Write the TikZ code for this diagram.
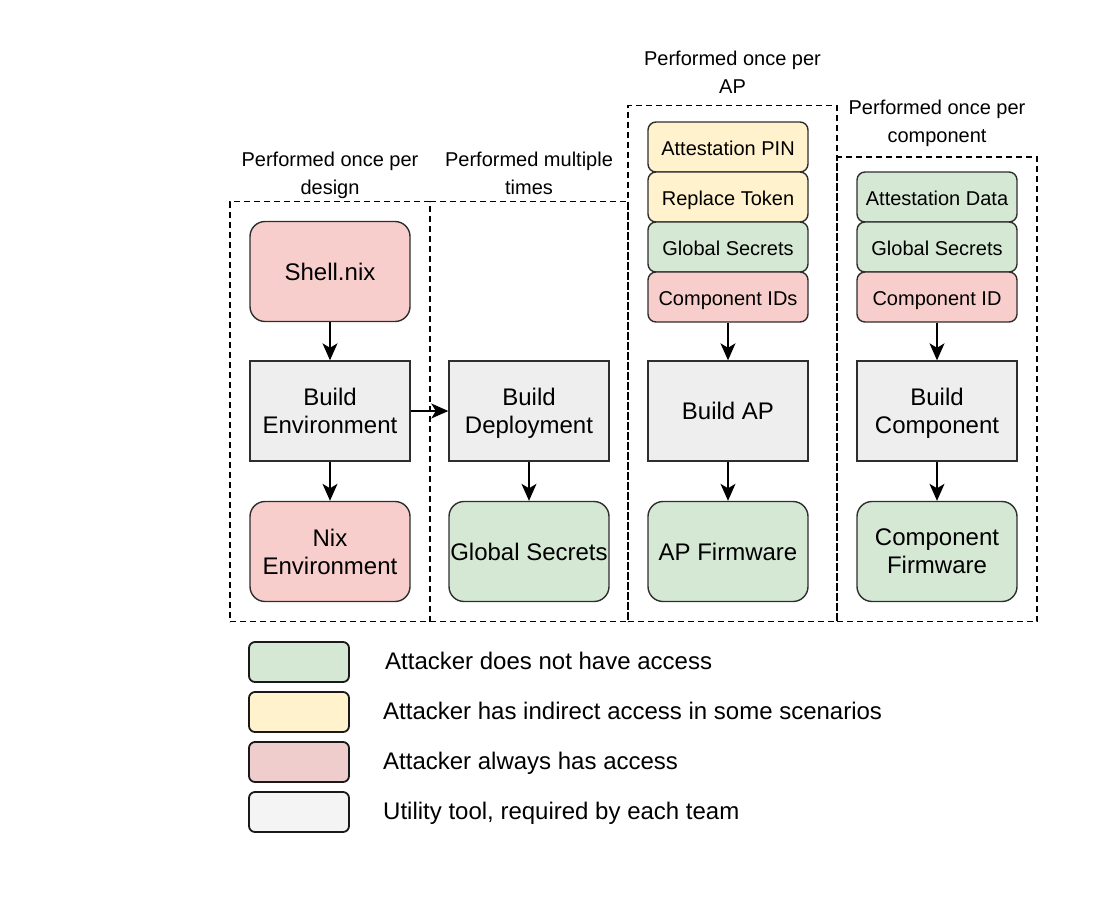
\documentclass[tikz,border=0pt]{standalone}
\usepackage{fontspec}
\setmainfont{Liberation Sans}
\usetikzlibrary{arrows.meta}
\definecolor{redF}{HTML}{F8CECC}
\definecolor{greenF}{HTML}{D5E8D4}
\definecolor{yellowF}{HTML}{FFF2CC}
\definecolor{grayF}{HTML}{EEEEEE}
\definecolor{legRed}{HTML}{F0CDCD}
\definecolor{legGray}{HTML}{F4F4F4}
\definecolor{strokeC}{HTML}{2E2E2E}
\tikzset{
  bigbox/.style={draw=strokeC, line width=1.4pt, minimum width=160pt, minimum height=100pt, inner sep=0pt, align=center, text depth=0pt, font=\fontsize{24}{28}\selectfont},
  rbig/.style={bigbox, rounded corners=15pt},
  sqbig/.style={bigbox, fill=grayF},
  smallbox/.style={draw=strokeC, line width=1.4pt, rounded corners=8pt, minimum width=160pt, minimum height=50pt, inner sep=0pt, text height=16.3pt, text depth=0pt, font=\fontsize{20}{24}\selectfont},
  grp/.style={draw=black, line width=1.3pt, dash pattern=on 6pt off 4pt, inner sep=0pt, minimum width=#1},
  glabel/.style={align=center, anchor=base, inner sep=0pt, font=\fontsize{20}{27.7}\selectfont},
  legbox/.style={draw=black!90, line width=1.8pt, rounded corners=6pt, minimum width=100pt, minimum height=40pt, inner sep=0pt},
  legtext/.style={anchor=west, inner sep=0pt, text height=17.2pt, text depth=0pt, font=\fontsize{24}{28}\selectfont},
  conn/.style={line width=1.4pt, -{Stealth[length=17pt,width=15pt,inset=4.5pt]}},
}
\begin{document}
\begin{tikzpicture}[x=1pt,y=-1pt]
\useasboundingbox (0,0) rectangle (1116,898);
% group containers
\node[grp=200pt, minimum height=420pt] (g1) at (330,411.6) {};
\node[grp=198pt, minimum height=420pt] (g2) at (529,411.6) {};
\node[grp=209pt, minimum height=516pt] (g3) at (732.5,363.6) {};
\node[grp=200pt, minimum height=464.5pt] (g4) at (937,389.25) {};
% group labels (anchor base = last line)
\node[glabel] (l1) at (330,194.4) {Performed once per\\design};
\node[glabel] (l2) at (529,194.4) {Performed multiple\\times};
\node[glabel] (l3) at (732.5,93) {Performed once per\\AP};
\node[glabel] (l4) at (937,142.5) {Performed once per\\component};
% column 1
\node[rbig, fill=redF] (shell) at (330,271.5) {Shell.nix};
\node[sqbig] (benv) at (330,411) {Build\\Environment};
\node[rbig, fill=redF] (nixenv) at (330,551.5) {Nix\\Environment};
% column 2
\node[sqbig] (bdep) at (529,411) {Build\\Deployment};
\node[rbig, fill=greenF] (gsec) at (529,551.5) {Global Secrets};
% column 3
\node[smallbox, fill=yellowF] (pin) at (728,147) {Attestation PIN};
\node[smallbox, fill=yellowF] (tok) at (728,197) {Replace Token};
\node[smallbox, fill=greenF] (gs3) at (728,247) {Global Secrets};
\node[smallbox, fill=redF] (cids) at (728,297) {Component IDs};
\node[sqbig] (bap) at (728,411) {Build AP};
\node[rbig, fill=greenF] (apfw) at (728,551.5) {AP Firmware};
% column 4
\node[smallbox, fill=greenF] (adata) at (937,197) {Attestation Data};
\node[smallbox, fill=greenF] (gs4) at (937,247) {Global Secrets};
\node[smallbox, fill=redF] (cid) at (937,297) {Component ID};
\node[sqbig] (bcomp) at (937,411) {Build\\Component};
\node[rbig, fill=greenF] (cfw) at (937,551.5) {Component\\Firmware};
% connectors
\draw[conn] (shell) -- (benv);
\draw[conn] (benv) -- (nixenv);
\draw[conn] (benv) -- (bdep);
\draw[conn] (bdep) -- (gsec);
\draw[conn] (cids) -- (bap);
\draw[conn] (bap) -- (apfw);
\draw[conn] (cid) -- (bcomp);
\draw[conn] (bcomp) -- (cfw);
% legend
\node[legbox, fill=greenF] (k1) at (299,662) {};
\node[legbox, fill=yellowF] (k2) at (299,712) {};
\node[legbox, fill=legRed] (k3) at (299,762) {};
\node[legbox, fill=legGray] (k4) at (299,812) {};
\node[legtext] (t1) at (385,661) {Attacker does not have access};
\node[legtext] (t2) at (383,711) {Attacker has indirect access in some scenarios};
\node[legtext] (t3) at (383,761) {Attacker always has access};
\node[legtext] (t4) at (383,811) {Utility tool, required by each team};
\end{tikzpicture}
\end{document}
